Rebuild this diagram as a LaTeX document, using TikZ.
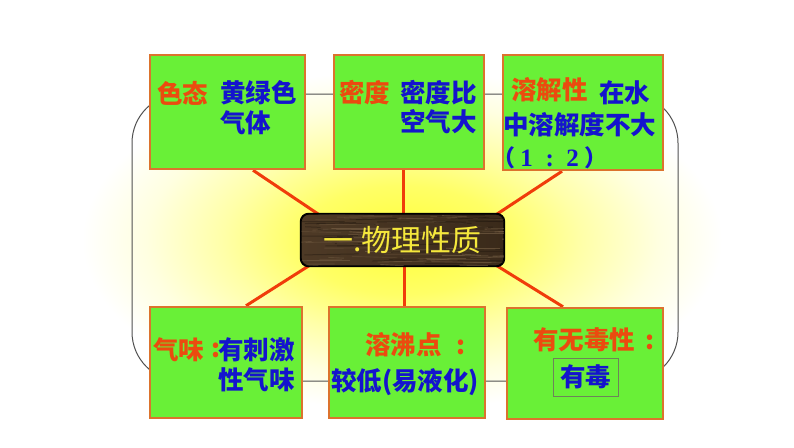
\documentclass[tikz,border=0pt]{standalone}
\usepackage{fontspec}
\newfontfamily\cjk{Noto Sans CJK SC}
\newfontfamily\lsb{Liberation Serif}
\usetikzlibrary{calc}
\definecolor{boxgreen}{RGB}{105,240,55}
\definecolor{boxborder}{RGB}{220,115,45}
\definecolor{keyred}{RGB}{235,75,15}
\definecolor{valblue}{RGB}{20,20,205}
\definecolor{rayred}{RGB}{240,60,10}
\definecolor{framegray}{RGB}{80,80,80}
\definecolor{woodA}{RGB}{78,58,38}
\definecolor{woodB}{RGB}{58,42,26}
\definecolor{woodlight}{RGB}{140,115,85}
\definecolor{wooddark}{RGB}{35,25,15}
\definecolor{titleyellow}{RGB}{245,232,60}
\definecolor{smallborder}{RGB}{110,130,90}
\colorlet{glowA}{yellow!78!white}
\colorlet{glowB}{yellow!60!white}
\colorlet{glowC}{yellow!34!white}
\colorlet{glowD}{yellow!12!white}
\pgfdeclareradialshading{glow}{\pgfpoint{0bp}{0bp}}{color(0bp)=(glowA); color(8bp)=(glowB); color(14bp)=(glowC); color(20bp)=(glowD); color(25bp)=(white); color(50bp)=(white)}
\pgfdeclarelayer{back}
\pgfdeclarelayer{mid}
\pgfsetlayers{back,mid,main}
\tikzset{
  box/.style={draw=boxborder, line width=2.5pt, fill=boxgreen, inner sep=0pt},
  lab/.style={anchor=west, inner sep=0pt, font=\cjk\bfseries\fontsize{25.5}{30}\selectfont},
  key/.style={lab, text=keyred},
  val/.style={lab, text=valblue},
  ray/.style={draw=rayred, line width=3pt},
  framebox/.style={draw=framegray, line width=1pt},
  centre/.style={draw=black, line width=1.2pt, rounded corners=8pt, left color=woodA, right color=woodB},
  title/.style={text=titleyellow, inner sep=0pt, font=\cjk\fontsize{30}{36}\selectfont},
}
\begin{document}
\begin{tikzpicture}[x=1pt,y=-1pt]
\useasboundingbox (0,0) rectangle (794,447);
\begin{pgfonlayer}{back}
  \fill[white] (0,0) rectangle (794,447);
  \shade[shading=glow] (82,70) rectangle (722,410);
  \draw[framebox, rounded corners=49pt] (132,94) rectangle (678,381);
\end{pgfonlayer}

% boxes
\node[box, minimum width=155pt, minimum height=114pt] (b1) at (227.5,112) {};
\node[box, minimum width=150pt, minimum height=114pt] (b2) at (409,112) {};
\node[box, minimum width=160pt, minimum height=115pt] (b3) at (583,112.5) {};
\node[box, minimum width=152pt, minimum height=111pt] (b4) at (226,362.5) {};
\node[box, minimum width=156pt, minimum height=111pt] (b5) at (407,362.5) {};
\node[box, minimum width=156pt, minimum height=111pt] (b6) at (585,363.5) {};

% centre box with wood grain
\node[centre, minimum width=203pt, minimum height=52pt] (c) at (402.5,240) {};
\begin{scope}
  \clip[rounded corners=8pt] (c.north west) rectangle (c.south east);
  \pgfmathsetseed{7}
  \foreach \i in {1,...,70}{
    \pgfmathsetmacro\yy{214+52*rnd}
    \pgfmathsetmacro\xx{290+215*rnd}
    \pgfmathsetmacro\ll{15+50*rnd}
    \pgfmathsetmacro\dd{3*rnd-1.5}
    \pgfmathsetmacro\op{0.15+0.35*rnd}
    \draw[woodlight, line width=0.9pt, opacity=\op] (\xx,\yy) -- ++(\ll,\dd);
  }
  \foreach \i in {1,...,40}{
    \pgfmathsetmacro\yy{214+52*rnd}
    \pgfmathsetmacro\xx{290+215*rnd}
    \pgfmathsetmacro\ll{15+50*rnd}
    \pgfmathsetmacro\dd{3*rnd-1.5}
    \draw[wooddark, line width=1pt, opacity=0.45] (\xx,\yy) -- ++(\ll,\dd);
  }
\end{scope}
\draw[black, line width=1.2pt, rounded corners=8pt] (c.north west) rectangle (c.south east);
\node[title] (ct) at (c.center) {一.物理性质};

% ray ends (hidden under the centre box)
\coordinate (r1) at ($(c.center)+(-72.5,-18)$);
\coordinate (r2) at ($(c.center)+(0.5,-15)$);
\coordinate (r3) at ($(c.center)+(85.5,-20)$);
\coordinate (r4) at ($(c.center)+(-84.5,20)$);
\coordinate (r5) at ($(c.center)+(1.5,15)$);
\coordinate (r6) at ($(c.center)+(83.5,19)$);

\begin{pgfonlayer}{mid}
  \draw[ray] ([xshift=25.5pt]b1.south) -- (r1);
  \draw[ray] ([xshift=-6pt]b2.south) -- (r2);
  \draw[ray] ([xshift=-21pt]b3.south) -- (r3);
  \draw[ray] ([xshift=20pt]b4.north) -- (r4);
  \draw[ray] ([xshift=-3pt]b5.north) -- (r5);
  \draw[ray] ([xshift=-22pt]b6.north) -- (r6);
\end{pgfonlayer}

% texts
\node[key] (k1) at (157,93) {色态};
\node[val] (v1) at (220,93) {黄绿色};
\node[val] (v1b) at (220,123) {气体};

\node[key] (k2) at (339,93) {密度};
\node[val] (v2) at (400,93) {密度比};
\node[val] (v2b) at (400,122) {空气大};

\node[key] (k3) at (511,90) {溶解性};
\node[val] (v3) at (599,93) {在水};
\node[val] (v3b) at (503,125) {中溶解度不大};
\node[val, font=\cjk\bfseries\fontsize{23}{28}\selectfont] (v3c) at (492,158)
  {\makebox[23pt]{（}\makebox[23pt]{\lsb\bfseries\fontsize{25}{28}\selectfont 1}\makebox[23pt]{\lsb\bfseries\fontsize{25}{28}\selectfont :}\makebox[23pt]{\lsb\bfseries\fontsize{25}{28}\selectfont 2}\makebox[23pt]{）}};

\node[key] (k4) at (153,350) {气味};
\node[key] (k4c) at (211,350) {:};
\node[val] (v4) at (218,350) {有刺激};
\node[val] (v4b) at (218,380) {性气味};

\node[key] (k5) at (365,345) {溶沸点\makebox[38pt]{:}};
\node[val] (v5) at (331,382) {较低(易液化)};

\node[key] (k6) at (533,340) {有无毒性\makebox[30pt]{:}};
\node[val, anchor=center, draw=smallborder, line width=0.8pt, minimum width=65pt, minimum height=38pt] (v6) at (585.5,377) {有毒};
\end{tikzpicture}
\end{document}
